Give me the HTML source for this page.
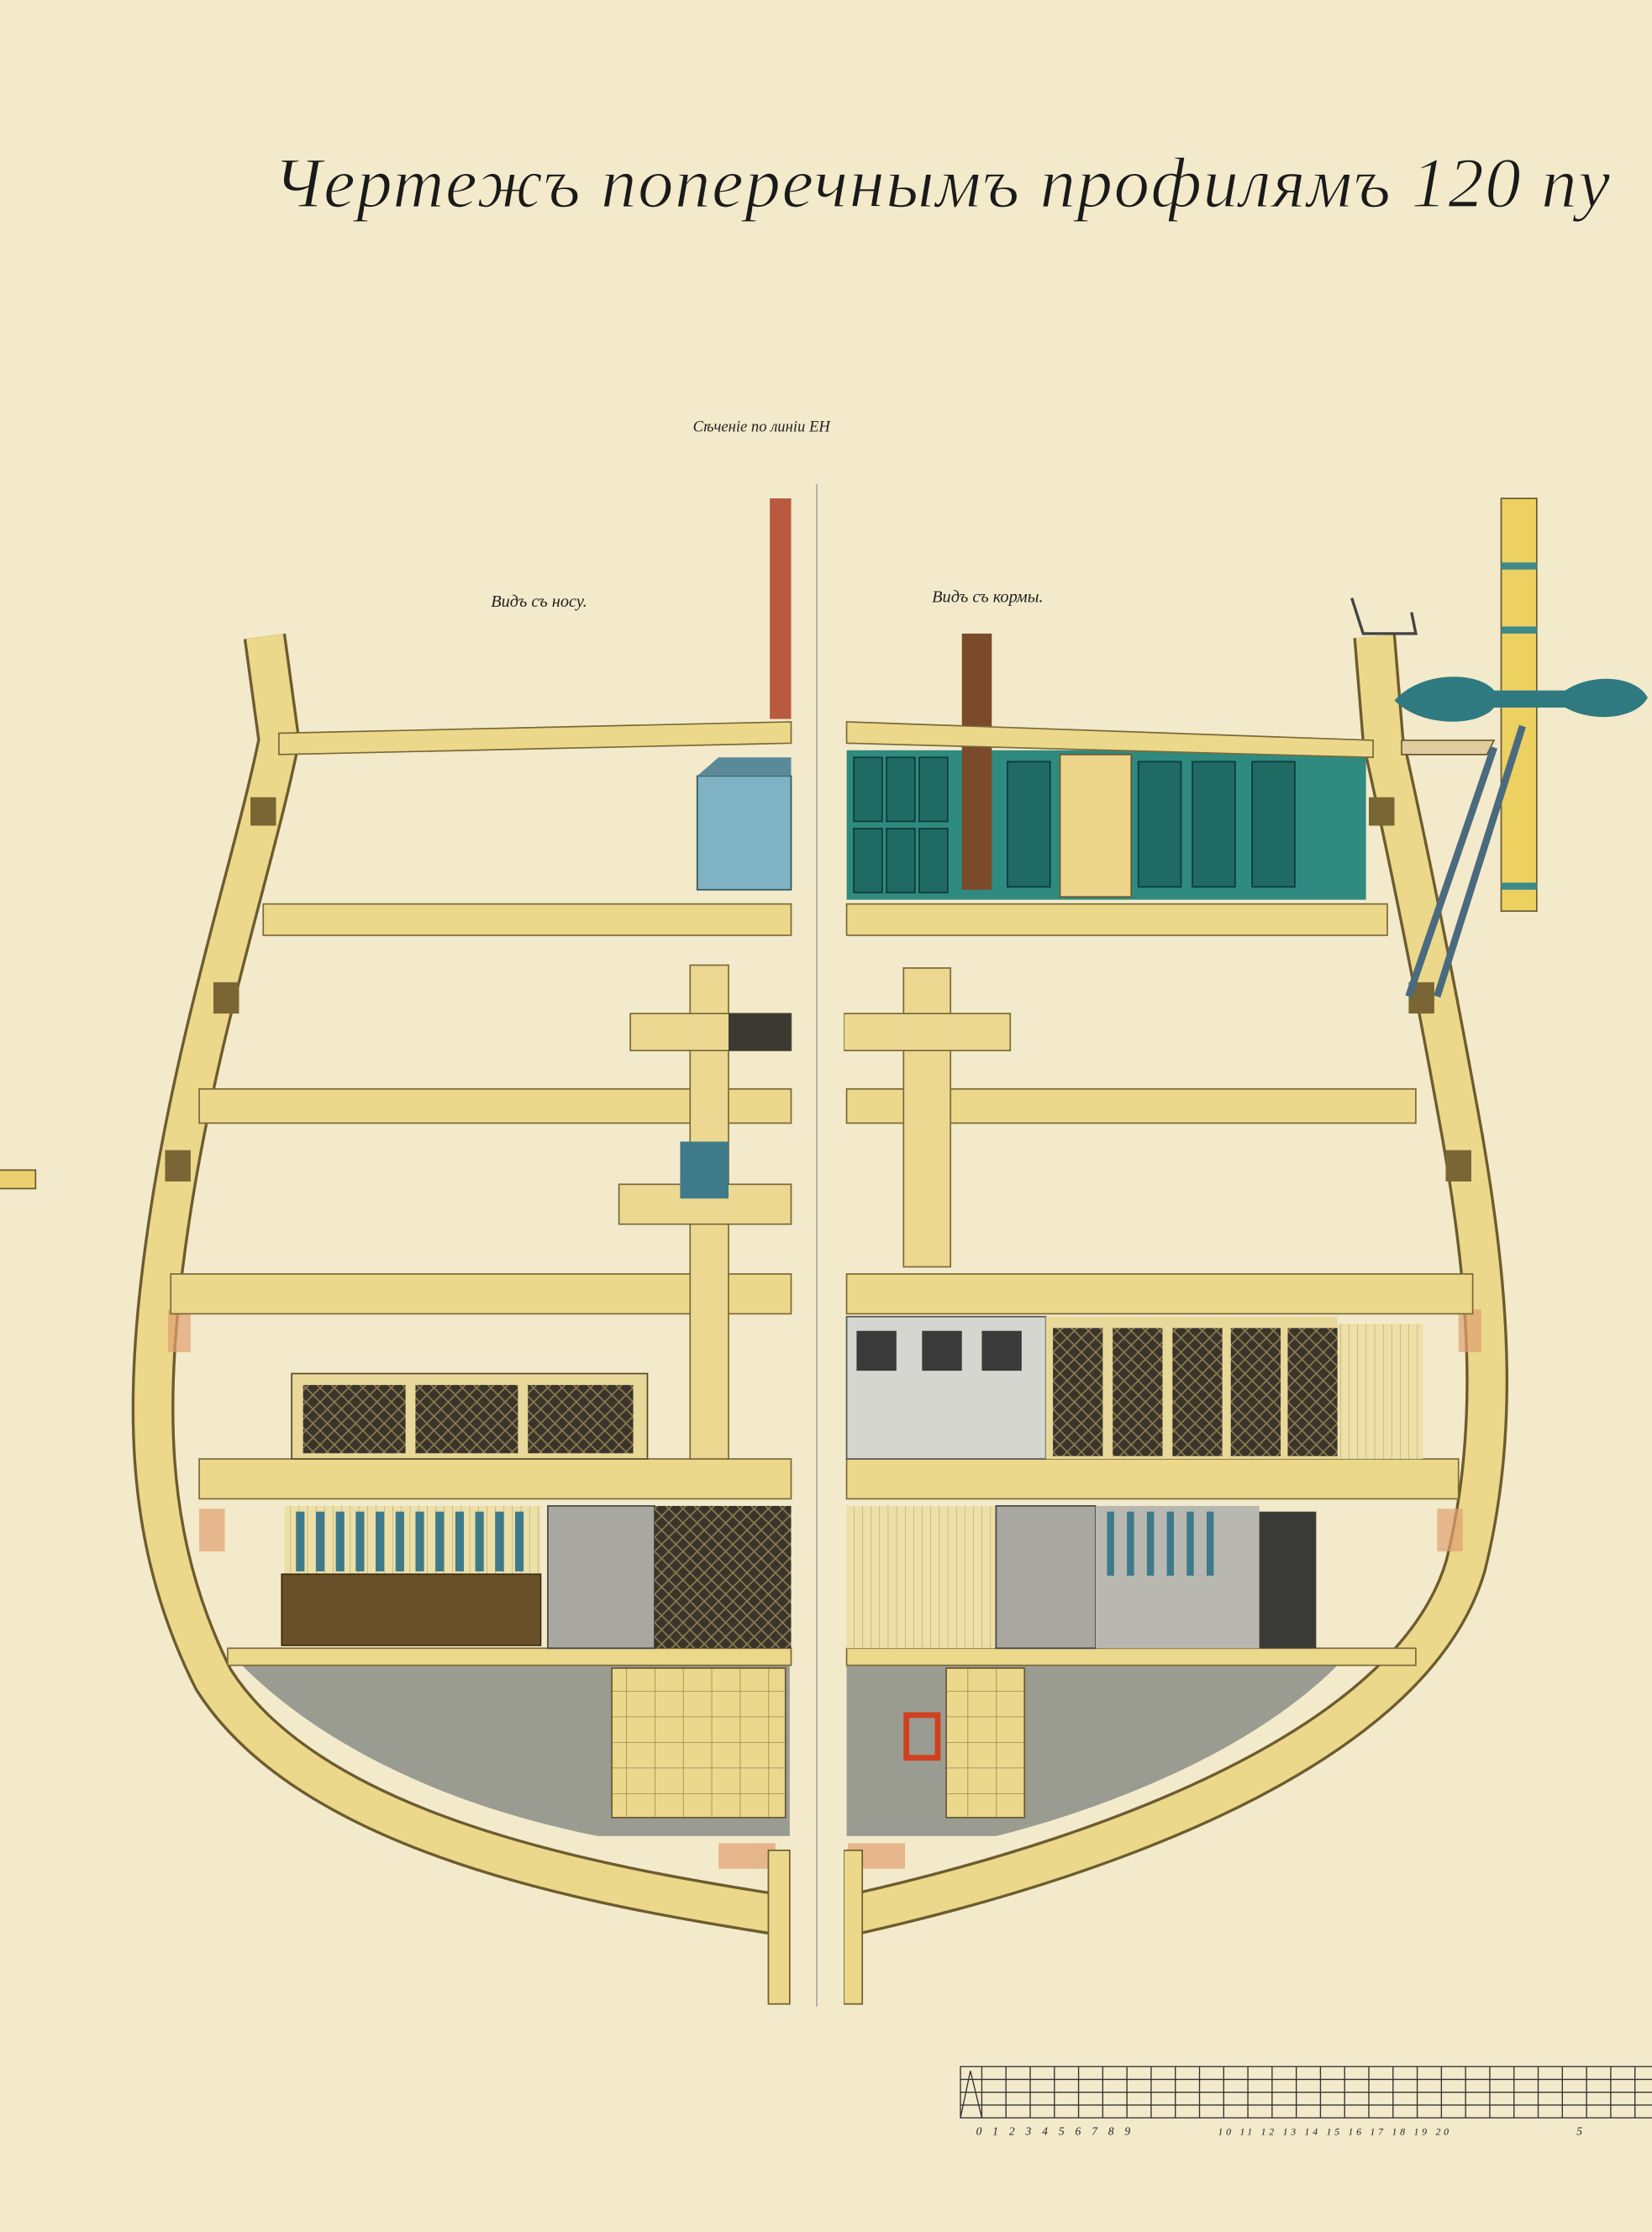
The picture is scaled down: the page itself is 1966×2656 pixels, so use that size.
<!DOCTYPE html>
<html><head><meta charset="utf-8"><style>
html,body{margin:0;padding:0;background:#f2e8c8}
svg{display:block}
</style></head><body>
<svg width="1966" height="2656" viewBox="0 0 1161 1568" xmlns="http://www.w3.org/2000/svg">
<defs>
<pattern id="lat" width="10" height="10" patternUnits="userSpaceOnUse"><rect width="10" height="10" fill="#3a342a"/><path d="M0,0L10,10M10,0L0,10" stroke="#8a7a50" stroke-width="1"/></pattern>
<pattern id="str" width="6" height="10" patternUnits="userSpaceOnUse"><rect width="6" height="10" fill="#ece0a8"/><path d="M0,0V10" stroke="#a89a68" stroke-width="0.6"/></pattern>
<pattern id="grid" width="20" height="18" patternUnits="userSpaceOnUse"><rect width="20" height="18" fill="#ecd88c"/><path d="M0,0H20M0,0V18" stroke="#8a7a4a" stroke-width="0.8"/></pattern>
</defs>
<rect width="1161" height="1568" fill="#f3eacb"/>
<text x="192" y="145" font-family="Liberation Serif, serif" font-style="italic" font-size="50" fill="#1a1a1a" stroke="#f3eacb" stroke-width="0.8" letter-spacing="1">Чертежъ  поперечнымъ  профилямъ   120 пу</text>
<text x="487" y="303" font-family="Liberation Serif, serif" font-style="italic" font-size="11" fill="#222">Сѣченіе по линіи EH</text>
<text x="345" y="426" font-family="Liberation Serif, serif" font-style="italic" font-size="12" fill="#222">Видъ съ носу.</text>
<text x="655" y="423" font-family="Liberation Serif, serif" font-style="italic" font-size="12" fill="#222">Видъ съ кормы.</text>
<path d="M170,1170 L555,1170 L555,1290 L420,1290 C320,1270 230,1230 170,1170Z" fill="#9a9c92"/>
<path d="M595,1170 L940,1170 C880,1230 780,1270 700,1290 L595,1290Z" fill="#9a9c92"/>
<g fill="none" stroke-linejoin="round">
<path d="M186,447 L196,520 C180,600 140,720 120,850 C100,980 100,1080 150,1180 C220,1290 420,1325 546,1345" stroke="#6d5c30" stroke-width="30"/>
<path d="M186,447 L196,520 C180,600 140,720 120,850 C100,980 100,1080 150,1180 C220,1290 420,1325 546,1345" stroke="#ecd88a" stroke-width="26"/>
<path d="M966,447 L972,520 C990,600 1010,700 1028,800 C1045,900 1055,1000 1030,1100 C995,1220 800,1300 600,1345" stroke="#6d5c30" stroke-width="30"/>
<path d="M966,447 L972,520 C990,600 1010,700 1028,800 C1045,900 1055,1000 1030,1100 C995,1220 800,1300 600,1345" stroke="#ecd88a" stroke-width="26"/>
</g>
<g fill="#7a6634">
<rect x="176" y="560" width="18" height="20"/><rect x="150" y="690" width="18" height="22"/><rect x="116" y="808" width="18" height="22"/>
<rect x="962" y="560" width="18" height="20"/><rect x="990" y="690" width="18" height="22"/><rect x="1016" y="808" width="18" height="22"/>
</g>
<g fill="#e0a070" opacity="0.7">
<rect x="118" y="920" width="16" height="30"/><rect x="140" y="1060" width="18" height="30"/><rect x="1025" y="920" width="16" height="30"/><rect x="1010" y="1060" width="18" height="30"/>
<rect x="505" y="1295" width="40" height="18"/><rect x="596" y="1295" width="40" height="18"/>
</g>
<rect x="540" y="1300" width="15" height="108" fill="#ecd88a" stroke="#6d5c30"/>
<rect x="593" y="1300" width="13" height="108" fill="#ecd88a" stroke="#6d5c30"/>
<rect x="490" y="545" width="66" height="80" fill="#7fb2c2" stroke="#355"/>
<path d="M490,545 L505,532 L556,532 L556,545Z" fill="#5a8a9a"/>
<rect x="595" y="527" width="365" height="105" fill="#2f8a80"/>
<g fill="#1f6a62" stroke="#0e3a36" stroke-width="1">
<rect x="600" y="532" width="20" height="45"/><rect x="623" y="532" width="20" height="45"/><rect x="646" y="532" width="20" height="45"/>
<rect x="600" y="582" width="20" height="45"/><rect x="623" y="582" width="20" height="45"/><rect x="646" y="582" width="20" height="45"/>
<rect x="708" y="535" width="30" height="88"/><rect x="800" y="535" width="30" height="88"/><rect x="838" y="535" width="30" height="88"/><rect x="880" y="535" width="30" height="88"/>
</g>
<rect x="745" y="530" width="50" height="100" fill="#ecd48a" stroke="#6a5a30"/>
<rect x="676" y="445" width="21" height="180" fill="#7a4a2a"/>
<rect x="541" y="350" width="15" height="155" fill="#b85a40"/>
<g fill="#ecd88a" stroke="#7a6a3a" stroke-width="1">
<path d="M196,515 L556,507 L556,522 L196,530Z"/><path d="M595,507 L965,520 L965,532 L595,522Z"/>
<rect x="185" y="635" width="371" height="22"/><rect x="595" y="635" width="380" height="22"/>
<rect x="140" y="765" width="416" height="24"/><rect x="595" y="765" width="400" height="24"/>
<rect x="120" y="895" width="436" height="28"/><rect x="595" y="895" width="440" height="28"/>
<rect x="140" y="1025" width="416" height="28"/><rect x="595" y="1025" width="430" height="28"/>
<rect x="160" y="1158" width="396" height="12"/><rect x="595" y="1158" width="400" height="12"/>
</g>
<g fill="#ecd890" stroke="#7a6a3a" stroke-width="1">
<rect x="485" y="678" width="27" height="347"/><rect x="443" y="712" width="113" height="26"/>
<rect x="435" y="832" width="121" height="28"/>
<rect x="635" y="680" width="33" height="210"/><rect x="593" y="712" width="117" height="26"/>
</g>
<rect x="512" y="712" width="44" height="26" fill="#3a3a32"/>
<rect x="478" y="802" width="34" height="40" fill="#3e7a8a"/>
<rect x="205" y="965" width="250" height="60" fill="#e8d89a" stroke="#5a4a2a"/>
<rect x="213" y="973" width="72" height="48" fill="url(#lat)"/><rect x="292" y="973" width="72" height="48" fill="url(#lat)"/><rect x="371" y="973" width="74" height="48" fill="url(#lat)"/>
<rect x="595" y="925" width="140" height="100" fill="#d6d6d0" stroke="#555"/>
<g fill="#3a3a3a"><rect x="602" y="935" width="28" height="28"/><rect x="648" y="935" width="28" height="28"/><rect x="690" y="935" width="28" height="28"/></g>
<rect x="735" y="925" width="205" height="100" fill="#e8d89a"/>
<g fill="url(#lat)"><rect x="740" y="933" width="35" height="90"/><rect x="782" y="933" width="35" height="90"/><rect x="824" y="933" width="35" height="90"/><rect x="865" y="933" width="35" height="90"/><rect x="905" y="933" width="35" height="90"/></g>
<rect x="940" y="930" width="60" height="95" fill="url(#str)"/>
<rect x="200" y="1058" width="180" height="48" fill="url(#str)"/>
<g fill="#3e7a8a"><rect x="208" y="1062" width="6" height="42"/><rect x="222" y="1062" width="6" height="42"/><rect x="236" y="1062" width="6" height="42"/><rect x="250" y="1062" width="6" height="42"/><rect x="264" y="1062" width="6" height="42"/><rect x="278" y="1062" width="6" height="42"/><rect x="292" y="1062" width="6" height="42"/><rect x="306" y="1062" width="6" height="42"/><rect x="320" y="1062" width="6" height="42"/><rect x="334" y="1062" width="6" height="42"/><rect x="348" y="1062" width="6" height="42"/><rect x="362" y="1062" width="6" height="42"/></g>
<rect x="198" y="1106" width="182" height="50" fill="#6a5028" stroke="#3a2a10"/>
<rect x="385" y="1058" width="75" height="100" fill="#a8a8a0" stroke="#444"/>
<rect x="460" y="1058" width="96" height="100" fill="url(#lat)"/>
<rect x="595" y="1058" width="105" height="100" fill="url(#str)"/>
<rect x="700" y="1058" width="70" height="100" fill="#a8a8a0" stroke="#444"/>
<rect x="770" y="1058" width="115" height="100" fill="#b8b8b0"/>
<g fill="#3e7a8a"><rect x="778" y="1062" width="5" height="45"/><rect x="792" y="1062" width="5" height="45"/><rect x="806" y="1062" width="5" height="45"/><rect x="820" y="1062" width="5" height="45"/><rect x="834" y="1062" width="5" height="45"/><rect x="848" y="1062" width="5" height="45"/></g>
<rect x="885" y="1062" width="40" height="96" fill="#3a3a36"/>
<rect x="430" y="1172" width="122" height="105" fill="url(#grid)" stroke="#6a5a30"/>
<rect x="665" y="1172" width="55" height="105" fill="url(#grid)" stroke="#6a5a30"/>
<rect x="637" y="1205" width="22" height="30" fill="none" stroke="#d04020" stroke-width="4"/>
<rect x="557" y="340" width="36" height="1070" fill="#f3eacb"/>
<line x1="574" y1="340" x2="574" y2="1410" stroke="#999" stroke-width="0.8"/>
<rect x="1055" y="350" width="25" height="290" fill="#ecd060" stroke="#6a5a30"/>
<g fill="#3e8a8a"><rect x="1055" y="395" width="25" height="5"/><rect x="1055" y="440" width="25" height="5"/><rect x="1055" y="620" width="25" height="5"/></g>
<path d="M980,492 C1000,470 1040,472 1050,485 L1100,485 C1120,472 1150,475 1158,490 C1150,505 1120,508 1100,497 L1050,497 C1040,510 1000,512 980,492Z" fill="#2f7a80"/>
<path d="M985,520 L1050,520 L1045,530 L985,530Z" fill="#e0cca0" stroke="#6a5a30"/>
<g stroke="#4a6a80" stroke-width="5"><line x1="1050" y1="525" x2="990" y2="700"/><line x1="1070" y1="510" x2="1010" y2="700"/></g>
<path d="M950,420 L958,445 L995,445 L992,430" fill="none" stroke="#444" stroke-width="2"/>
<path d="M0,822 L25,822 L25,835 L0,835" fill="#ecd070" stroke="#6a5a30"/>
<g stroke="#333" stroke-width="0.8" fill="none">
<rect x="675" y="1452" width="490" height="36"/>
<line x1="675" y1="1461" x2="1161" y2="1461"/><line x1="675" y1="1470" x2="1161" y2="1470"/><line x1="675" y1="1479" x2="1161" y2="1479"/>
<path d="M675,1488 L682,1455 L690,1488"/>
<path d="M690,1452V1488M707,1452V1488M724,1452V1488M741,1452V1488M758,1452V1488M775,1452V1488M792,1452V1488M809,1452V1488M826,1452V1488M843,1452V1488M860,1452V1488M877,1452V1488M894,1452V1488M911,1452V1488M928,1452V1488M945,1452V1488M962,1452V1488M979,1452V1488M996,1452V1488M1013,1452V1488M1030,1452V1488M1047,1452V1488M1064,1452V1488M1081,1452V1488M1098,1452V1488M1115,1452V1488M1132,1452V1488M1149,1452V1488"/>
</g>
<text x="686" y="1500" font-family="Liberation Serif, serif" font-style="italic" font-size="8" fill="#222" letter-spacing="7.6">0123456789</text>
<text x="856" y="1500" font-family="Liberation Serif, serif" font-style="italic" font-size="7" fill="#222" letter-spacing="2.2">10 11 12 13 14 15 16 17 18 19 20</text>
<text x="1108" y="1500" font-family="Liberation Serif, serif" font-style="italic" font-size="8" fill="#222">5</text>
</svg>
</body></html>
